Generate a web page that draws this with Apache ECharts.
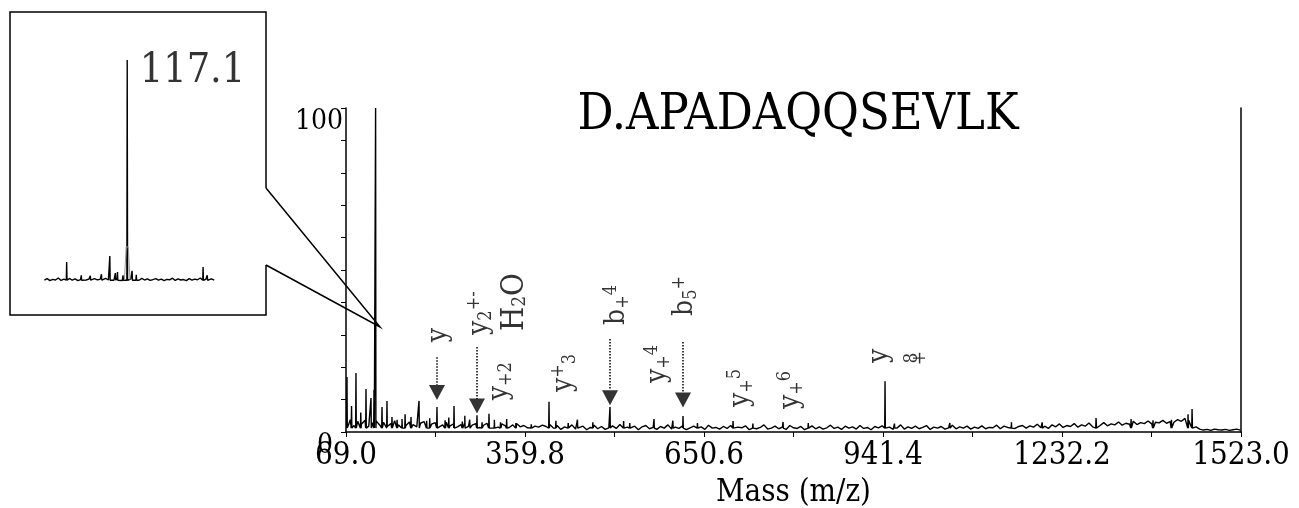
<!DOCTYPE html>
<html>
<head>
<meta charset="utf-8">
<script src="https://cdn.jsdelivr.net/npm/echarts@6/dist/echarts.min.js"></script>
<style>html,body{margin:0;background:#fff}#main{width:1299px;height:508px}</style>
</head>
<body>
<div id="main"></div>
<script>
// serif like the original figure
const FONT = "'DejaVu Serif Condensed','DejaVu Serif',serif";

const mzMin = 69.0, mzMax = 1523.0, mzStep = 145.4;
const xTickLabels = ['69.0', '359.8', '650.6', '941.4', '1232.2', '1523.0'];

// baseline noise of the main spectrum, one value every 6 m/z from 70
const noiseStart = 70, noiseStep = 6;
const noise = [
  2.6,3.8,2.0,3.3,2.4,3.6,1.8,2.9,3.4,2.1,3.0,1.7,2.6,3.5,2.2,2.8,1.9,3.1,2.3,1.6,
  2.7,3.2,1.8,2.4,2.9,1.5,2.2,3.0,1.9,2.5,1.6,2.3,2.8,1.7,2.1,2.6,1.4,2.0,2.7,1.8,
  2.3,1.5,2.5,1.9,1.4,2.2,2.6,1.6,2.0,1.3,2.4,1.8,1.5,2.1,1.7,2.3,
  1.2,2.0,0.8,1.6,1.1,2.2,0.9,1.5,1.8,0.7,1.4,2.1,1.0,1.7,0.8,1.3,1.9,1.1,2.3,0.9,
  1.5,1.2,1.8,0.7,1.6,2.0,1.0,1.4,0.8,1.7,1.2,2.2,0.9,1.5,1.1,1.9,0.7,1.3,1.8,1.0,
  1.6,0.8,2.1,1.2,1.4,0.9,1.7,1.1,2.0,0.8,1.5,1.3,1.9,0.7,1.6,1.0,1.4,2.2,0.9,1.2,
  1.8,1.0,1.5,0.8,2.0,1.3,1.1,1.7,0.7,1.4,1.9,1.0,1.6,0.9,1.3,2.1,1.1,1.5,0.8,1.8,
  1.2,1.6,0.9,2.0,1.1,1.4,0.7,1.7,1.3,1.9,1.0,1.5,0.8,1.2,2.2,0.9,1.6,1.1,1.8,1.0,
  1.4,2.0,0.8,1.5,1.2,1.7,0.9,1.3,2.1,1.0,1.6,1.2,1.8,0.9,1.5,1.1,1.9,1.0,1.4,
  1.3,2.1,1.0,1.8,1.4,2.3,1.1,1.7,2.0,1.2,1.9,1.5,2.4,1.3,1.8,1.1,2.2,1.6,2.5,1.4,
  2.0,1.7,2.6,1.5,2.2,1.8,2.8,1.6,2.4,2.0,2.9,1.9,2.5,2.2,3.1,2.1,2.7,2.4,3.3,2.3,
  2.9,2.6,3.4,2.5,3.0,2.8,3.6,2.7,3.2,3.0,3.8,3.3,4.2,3.6,
  3.0,1.6,0.9,0.6,0.8,0.5,0.9,0.7,0.6,0.8,0.5,0.7,0.9,0.6
];

// [m/z, relative intensity]
const peaks = [
  [70.6,17.0],[78,8],[85.2,18.2],[93,6],[101.5,13.3],[109.6,10.5],[114.5,13.0],[117.1,100],
  [127.5,7.7],[135.6,9.6],[143.7,4.6],[152,3.8],[160,4.0],[165,5.5],[174.6,4.6],[187.6,9.6],
  [200,3.5],[205,4.2],[216.8,7.7],[230,3.6],[236,4.5],[244.5,8.0],[258,3.2],[262,5.0],[270,3.8],
  [281.8,5.2],[290,3.0],[301.3,5.6],[310,3.8],[320,3.0],[330,4.0],[345,2.8],[370,3.0],[398.8,9.3],
  [410,3.5],[430,2.8],[445,3.8],[470,3.0],[497.9,7.7],[520,3.4],[530,2.8],[569.4,4.0],[600,3.5],
  [616.5,4.9],[640,2.8],[697.8,3.4],[730,2.6],[779.0,3.1],[820,2.8],[944.7,15.7],
  [960,2.6],[1050,2.8],[1150,3.0],[1200,3.0],[1287.5,4.3],[1344.4,4.0],[1380,3.6],[1410,3.8],
  [1437,5.5],[1443.5,7.1]
];

// arrows: [m/z, stem top, triangle top, triangle centre]
const arrows = [
  [216.8, 23.1, 14.5, 12.2],
  [281.8, 26.2, 10.2, 8.0],
  [497.9, 28.7, 13.0, 10.6],
  [616.5, 27.8, 12.0, 9.9]
];

// ion labels (rotated): [m/z, intensity, text]
const ionLabels = [
  [220.1, 29.9, '{m|y}'],
  [286.7, 36.7, '{m|y}{sub|2}{sup|+-}'],
  [343.6, 40.1, '{big|H}{bsub|2}{big|O}'],
  [319.2, 15.7, '{m|y}{sub|+2}'],
  [423.2, 18.2, '{m|y}{sup|+}{sub|3}'],
  [509.3, 39.2, '{m|b}{sub|+}{sup|4}'],
  [619.8, 42.0, '{m|b}{sub|5}{sup|+}'],
  [575.9, 21.0, '{m|y}{sub|+}{sup|4}'],
  [710.8, 13.6, '{m|y}{sub|+}{sup|5}'],
  [792.0, 13.0, '{m|y}{sub|+}{sup|6}'],
  [936.6, 23.5, '{m|y}'],
  [988.6, 22.8, '{s|8}'],
  [1001.6, 22.8, '{s|+}']
];

// inset (zoom around 117.1)
const insetMin = 105, insetMax = 130;
const insetNoiseStart = 105.2, insetNoiseStep = 0.4;
const insetNoise = [
  0.8,1.5,0.6,1.2,0.9,1.8,0.7,1.3,1.0,1.6,0.8,1.4,0.6,1.1,1.7,0.9,1.3,0.7,1.5,1.0,
  1.2,0.6,1.6,0.9,1.4,0.8,1.9,1.1,0.7,1.5,1.0,1.3,0.6,1.2,0.8,1.6,0.9,1.4,0.7,1.1,
  1.5,0.8,1.3,0.6,1.2,1.0,1.7,0.7,1.4,0.9,1.1,0.6,1.5,0.8,1.3,1.0,1.8,0.7,1.2,0.9,
  1.4,0.8
];
const insetPeaks = [
  [108.4,9],[110.5,3],[111.8,2.8],[113.4,3.5],[114.6,11.7],[115.4,4],[115.7,4.5],[116.5,3],
  [117.1,100],[117.8,5],[118.4,3.2],[128,6.8],[128.6,3]
];
const insetHump = [[116.7,1],[116.95,15.8],[117.25,15.8],[117.5,1]];

function buildSpectrum(start, step, noiseVals, peakList, half, base, shift) {
  const pts = noiseVals.map((v, i) => [start + i * step, v]);
  peakList.forEach(([mz, h]) => { pts.push([mz - half, base], [mz, h], [mz + half, base]); });
  pts.sort((a, b) => a[0] - b[0]);
  return pts.map(p => [p[0] - shift, p[1]]);
}

const mainData = buildSpectrum(noiseStart, noiseStep, noise, peaks, 0.5, 1.2, mzMin);
const insetData = buildSpectrum(insetNoiseStart, insetNoiseStep, insetNoise, insetPeaks, 0.05, 0.8, 0);

const txt = { fontFamily: FONT, color: '#000' };
const LH = 30;

let myChart = echarts.init(document.getElementById('main'));
var option = {
  animation: false,
  backgroundColor: '#fff',
  title: {
    text: 'D.APADAQQSEVLK',
    left: 793, top: 86, textAlign: 'center',
    textStyle: { ...txt, fontSize: 50, fontWeight: 'normal' }
  },
  grid: [
    { left: 346, right: 58, top: 108, bottom: 76, outerBoundsMode: 'none' },
    { left: 43, top: 60, width: 174, height: 222, outerBoundsMode: 'none' }
  ],
  xAxis: [
    {
      type: 'value', gridIndex: 0, min: 0, max: mzMax - mzMin, interval: mzStep,
      name: 'Mass (m/z)', nameLocation: 'middle', nameGap: 45,
      nameTextStyle: { ...txt, fontSize: 31 },
      axisLine: { lineStyle: { color: '#000', width: 1.5 } },
      axisTick: { show: true, length: 5, lineStyle: { color: '#000' } },
      splitLine: { show: false },
      axisLabel: {
        ...txt, fontSize: 31, margin: 8,
        formatter: v => {
          const k = Math.round(v / mzStep);
          return k % 2 === 0 ? xTickLabels[k / 2] : '';
        }
      }
    },
    { type: 'value', gridIndex: 1, min: insetMin, max: insetMax, show: false }
  ],
  yAxis: [
    {
      type: 'value', gridIndex: 0, min: 0, max: 100, interval: 10,
      axisLine: { show: true, lineStyle: { color: '#000', width: 1.5 } },
      axisTick: { show: true, length: 5, lineStyle: { color: '#000' } },
      splitLine: { show: false },
      axisLabel: {
        margin: 3, verticalAlign: 'top',
        formatter: v => v === 100 ? '{a|100}' : (v === 0 ? '{b|0}' : ''),
        rich: {
          a: { ...txt, fontSize: 28 },
          b: { ...txt, fontSize: 28, padding: [0, 10, 0, 0] }
        }
      }
    },
    {
      type: 'value', gridIndex: 0, min: 0, max: 100, position: 'right',
      axisLine: { show: true, lineStyle: { color: '#000', width: 1.5 } },
      axisTick: { show: false }, axisLabel: { show: false }, splitLine: { show: false }
    },
    { type: 'value', gridIndex: 1, min: 0, max: 100, show: false }
  ],
  series: [
    {
      name: 'spectrum', type: 'line', xAxisIndex: 0, yAxisIndex: 0,
      data: mainData, showSymbol: false, silent: true,
      lineStyle: { color: '#000', width: 1.4 }
    },
    {
      name: 'arrows', type: 'scatter', xAxisIndex: 0, yAxisIndex: 0,
      symbol: 'triangle', symbolRotate: 180, symbolSize: [16, 15],
      itemStyle: { color: '#000' },
      data: arrows.map(a => [a[0] - mzMin, a[3]]),
      markLine: {
        silent: true, symbol: ['none', 'none'], label: { show: false },
        lineStyle: { color: '#000', type: 'dotted', width: 1.5 },
        data: arrows.map(a => [{ coord: [a[0] - mzMin, a[1]] }, { coord: [a[0] - mzMin, a[2]] }])
      }
    },
    {
      name: 'ions', type: 'scatter', xAxisIndex: 0, yAxisIndex: 0,
      symbolSize: 1, itemStyle: { color: 'rgba(0,0,0,0)' },
      data: ionLabels.map(l => [l[0] - mzMin, l[1], l[2]]),
      label: {
        show: true, position: 'inside', rotate: 90, ...txt, fontSize: 28,
        formatter: p => p.data[2],
        rich: {
          m: { ...txt, fontSize: 28, lineHeight: LH },
          sub: { ...txt, fontSize: 18, lineHeight: LH, verticalAlign: 'bottom' },
          sup: { ...txt, fontSize: 18, lineHeight: LH, verticalAlign: 'top' },
          big: { ...txt, fontSize: 31, lineHeight: LH },
          bsub: { ...txt, fontSize: 19, lineHeight: LH, verticalAlign: 'bottom' },
          s: { ...txt, fontSize: 19 }
        }
      }
    },
    {
      name: 'inset', type: 'line', xAxisIndex: 1, yAxisIndex: 2,
      data: insetData, showSymbol: false, silent: true,
      lineStyle: { color: '#000', width: 1.4 }
    },
    {
      name: 'insetHump', type: 'line', xAxisIndex: 1, yAxisIndex: 2,
      data: insetHump, showSymbol: false, silent: true,
      lineStyle: { color: '#999', width: 1 }
    },
    {
      name: 'insetLabel', type: 'scatter', xAxisIndex: 1, yAxisIndex: 2,
      symbolSize: 1, itemStyle: { color: 'rgba(0,0,0,0)' },
      data: [[117.1, 100]],
      label: { show: true, position: 'right', distance: 12, offset: [0, 11], ...txt, fontSize: 41, formatter: '117.1' }
    }
  ],
  graphic: [
    {
      type: 'polyline', silent: true,
      shape: { points: [[266, 188], [266, 12], [10, 12], [10, 315], [266, 315], [266, 265]] },
      style: { stroke: '#000', lineWidth: 1.5, fill: null }
    },
    {
      type: 'polyline', silent: true,
      shape: { points: [[266, 188], [380, 327], [266, 265]] },
      style: { stroke: '#000', lineWidth: 1.5, fill: null }
    }
  ]
};
myChart.setOption(option);
</script>
</body>
</html>
